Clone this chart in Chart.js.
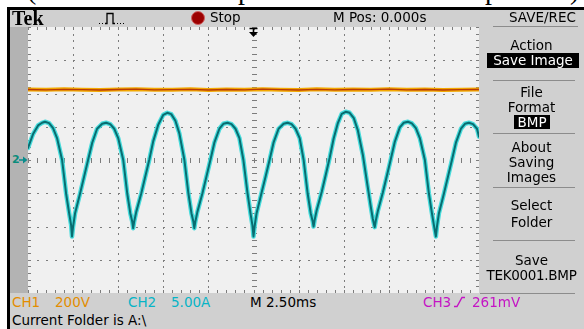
<!DOCTYPE html>
<html>
<head>
<meta charset="utf-8">
<script src="https://cdn.jsdelivr.net/npm/chart.js@4.4.1/dist/chart.umd.min.js"></script>
<style>
  html, body { margin: 0; padding: 0; background: #fff; }
  body { width: 584px; height: 329px; position: relative; overflow: hidden; font-family: "DejaVu Sans", sans-serif; font-size: 13.5px; color: #000; }
  .abs { position: absolute; white-space: nowrap; line-height: 16px; }
  .cap { position: absolute; top: -24px; font: 28px/28px "Liberation Serif", serif; }
  #frame { position: absolute; left: 7px; top: 7px; width: 577px; height: 322px; background: #000; }
  #screen { position: absolute; left: 10px; top: 10px; width: 574px; height: 319px; background: #d0d0d0; }
  #strip { position: absolute; left: 10px; top: 27px; width: 18px; height: 266px; background: #b3b3b3; }
  #plot { position: absolute; left: 28px; top: 27px; width: 451px; height: 266px; background: #f0f0f0; }
  .menu { position: absolute; left: 479px; width: 105px; text-align: center; line-height: 16px; }
  .sep { position: absolute; height: 1px; background: #8c8c8c; }
  .inv { background: #000; color: #fff; }
</style>
</head>
<body>
<span class="cap" style="left:27px">(</span>
<span class="cap" style="left:238px">p</span>
<span class="cap" style="left:485px">p</span>
<span class="cap" style="left:570px">)</span>

<div id="frame"></div>
<div id="screen"></div>
<div id="strip"></div>
<div id="plot"><canvas id="scope" width="451" height="266"></canvas></div>

<!-- header row -->
<span class="abs" style="left:12px;top:9px;font:bold 20px/19px 'Liberation Serif',serif">Tek</span>
<svg class="abs" style="left:98px;top:11px" width="30" height="14">
  <path d="M1 12.5 h1 M4 12.5 h1" stroke="#000" stroke-width="1"/>
  <path d="M7 12.5 h2 v-10 h6 v10 h2" stroke="#000" stroke-width="1.3" fill="none"/>
  <path d="M19 12.5 h1 M22 12.5 h1 M25 12.5 h1" stroke="#000" stroke-width="1"/>
</svg>
<div class="abs" style="left:191px;top:11px;width:12px;height:12px;border-radius:50%;background:#9c0000;border:1px solid #d06060"></div>
<span class="abs" style="left:210px;top:9px">Stop</span>
<span class="abs" style="left:333px;top:9px">M Pos: 0.000s</span>
<span class="abs" style="left:509px;top:9px">SAVE/REC</span>
<div class="sep" style="left:493px;top:26px;width:85px"></div>

<!-- trigger position marker and channel marker -->
<svg class="abs" style="left:248px;top:27px" width="11" height="11">
  <path d="M1.5 1.5 h8 M5.5 1.5 v5" stroke="#000" stroke-width="1.6"/>
  <path d="M1 5 L10 5 L5.5 10 Z" fill="#000"/>
</svg>
<span class="abs" style="left:12px;top:152px;font:bold 11px/16px 'DejaVu Sans',sans-serif;color:#0a8c7c">2</span>
<svg class="abs" style="left:19px;top:156px" width="9" height="8">
  <path d="M0 4 h6" stroke="#0a8c8c" stroke-width="1.5"/>
  <path d="M4 0.5 L8.5 4 L4 7.5 Z" fill="#0a8c8c"/>
</svg>

<!-- side menu -->
<div class="menu" style="top:37px">Action</div>
<div class="abs inv" style="left:487px;top:53px;width:92px;height:15px;line-height:15px;text-align:center">Save Image</div>
<div class="sep" style="left:493px;top:80px;width:82px"></div>
<div class="menu" style="top:84px">File</div>
<div class="menu" style="top:99px">Format</div>
<div class="abs inv" style="left:514px;top:115px;width:36px;height:14px;line-height:14px;text-align:center">BMP</div>
<div class="sep" style="left:493px;top:133px;width:82px"></div>
<div class="menu" style="top:139px">About</div>
<div class="menu" style="top:154px">Saving</div>
<div class="menu" style="top:169px">Images</div>
<div class="sep" style="left:493px;top:187px;width:82px"></div>
<div class="menu" style="top:197px">Select</div>
<div class="menu" style="top:214px">Folder</div>
<div class="sep" style="left:493px;top:240px;width:82px"></div>
<div class="menu" style="top:252px">Save</div>
<div class="menu" style="top:267px;letter-spacing:-0.3px">TEK0001.BMP</div>
<div class="sep" style="left:480px;top:293px;width:95px"></div>

<!-- bottom readouts -->
<span class="abs" style="left:12px;top:294px;color:#e38d00">CH1</span>
<span class="abs" style="left:55px;top:294px;color:#e38d00">200V</span>
<span class="abs" style="left:128px;top:294px;color:#06b4c6">CH2</span>
<span class="abs" style="left:171px;top:294px;color:#06b4c6">5.00A</span>
<span class="abs" style="left:250px;top:294px">M 2.50ms</span>
<span class="abs" style="left:423px;top:294px;color:#c414c4">CH3</span>
<svg class="abs" style="left:453px;top:296px" width="13" height="12">
  <path d="M1 10.5 h3 L9 1.5 h3" stroke="#c414c4" stroke-width="1.4" fill="none"/>
</svg>
<span class="abs" style="left:472px;top:294px;color:#c414c4">261mV</span>
<span class="abs" style="left:12px;top:312px">Current Folder is A:\</span>

<script>
// time base: 2.5 ms/div, 10 divisions, trigger at centre
const timeDivs = [-12.5, -10, -7.5, -5, -2.5, 0, 2.5, 5, 7.5, 10, 12.5];
// CH2 5 A/div, CH1 200 V/div, 8 divisions
const ampDivs = [-20, -15, -10, -5, 0, 5, 10, 15, 20];
const voltDivs = [-800, -600, -400, -200, 0, 200, 400, 600, 800];

// CH1 (orange) voltage trace, ms / V
const ch1Time = [-12.5, -11.5, -10.5, -9.5, -8.5, -7.5, -6.5, -5.5, -4.5, -3.5, -2.5, -1.5, -0.5,
  0.5, 1.5, 2.5, 3.5, 4.5, 5.5, 6.5, 7.5, 8.5, 9.5, 10.5, 11.5, 12.5];
const ch1Volts = [424, 422, 425, 423, 421, 424, 426, 422, 423, 425, 421, 424, 422,
  426, 423, 421, 425, 422, 424, 423, 426, 422, 424, 421, 423, 424];

// CH2 (teal) current trace, ms / A
const ch2Time = [
  -12.5, -12.22, -11.94, -11.72, -11.56, -11.33, -11.11, -10.89, -10.61, -10.39, -10.22, -10.11, -10.06,
  -10.0, -9.89, -9.61, -9.39, -9.17, -8.94, -8.67, -8.39, -8.17,
  -7.94, -7.72, -7.5, -7.22, -7.0, -6.83, -6.72, -6.67,
  -6.61, -6.5, -6.22, -6.0, -5.78, -5.56, -5.28, -5.0, -4.78,
  -4.56, -4.33, -4.11, -3.83, -3.61, -3.44, -3.33, -3.28,
  -3.22, -3.11, -2.83, -2.61, -2.39, -2.17, -1.89, -1.67, -1.44,
  -1.22, -1.0, -0.78, -0.56, -0.33, -0.17, -0.06, 0,
  0.06, 0.17, 0.44, 0.67, 0.89, 1.11, 1.39, 1.67, 1.89,
  2.11, 2.33, 2.56, 2.78, 3.0, 3.17, 3.28, 3.33,
  3.39, 3.5, 3.78, 4.0, 4.22, 4.44, 4.67, 4.89, 5.11,
  5.33, 5.56, 5.78, 6.06, 6.33, 6.5, 6.61, 6.72,
  6.78, 6.89, 7.17, 7.39, 7.61, 7.83, 8.11, 8.33, 8.56,
  8.78, 9.0, 9.22, 9.5, 9.72, 9.89, 10.0, 10.11,
  10.17, 10.28, 10.56, 10.78, 11.0, 11.22, 11.5, 11.72, 11.94,
  12.17, 12.39, 12.5
];
const ch2Amps = [
  1.8, 3.9, 5.2, 5.6, 5.75, 5.55, 4.8, 3.3, 0, -5.0, -8.0, -9.8, -11.5,
  -10.0, -8.0, -5.0, -2.5, 0, 2.6, 4.7, 5.45, 5.6,
  5.4, 4.7, 3.3, 0, -5.0, -8.0, -9.3, -10.25,
  -9.2, -7.8, -5.0, -2.5, 0, 2.8, 5.3, 6.8, 7.1,
  6.9, 5.9, 4.0, 0, -5.0, -8.0, -9.3, -10.25,
  -9.2, -7.8, -5.0, -2.5, 0, 2.6, 4.7, 5.45, 5.6,
  5.4, 4.7, 3.3, 0, -5.0, -8.0, -9.8, -11.5,
  -10.0, -8.0, -5.0, -2.5, 0, 2.6, 4.7, 5.45, 5.6,
  5.4, 4.7, 3.3, 0, -5.0, -8.0, -9.2, -10.0,
  -9.0, -7.6, -4.8, -2.3, 0.3, 3.2, 5.5, 6.95, 7.25,
  7.1, 6.3, 4.5, 0.8, -4.0, -7.0, -8.8, -10.1,
  -9.1, -7.7, -4.9, -2.4, 0.1, 2.7, 4.9, 5.6, 5.75,
  5.5, 4.8, 3.3, 0, -5.0, -8.0, -9.8, -11.5,
  -10.0, -8.0, -5.0, -2.5, 0, 2.6, 4.7, 5.45, 5.6,
  5.4, 4.7, 3.5
];

const ch1Points = ch1Time.map((t, i) => ({ x: t, y: ch1Volts[i] }));
const ch2Points = ch2Time.map((t, i) => ({ x: t, y: ch2Amps[i] }));

// dotted graticule like the scope screen, 5 minor marks per division
const graticule = {
  id: 'graticule',
  beforeDatasetsDraw(chart) {
    const { ctx, chartArea: a, scales } = chart;
    const x = scales.x, y = scales.y;
    const minorX = (timeDivs[1] - timeDivs[0]) / 5;
    const minorY = (ampDivs[1] - ampDivs[0]) / 5;
    const xs = [], ys = [];
    for (let t = timeDivs[0]; t <= timeDivs[timeDivs.length - 1] + 1e-6; t += minorX) xs.push(Math.round(x.getPixelForValue(t)));
    for (let v = ampDivs[0]; v <= ampDivs[ampDivs.length - 1] + 1e-6; v += minorY) ys.push(Math.round(y.getPixelForValue(v)));
    ctx.save();
    ctx.fillStyle = '#7c7c7c';
    timeDivs.forEach((t, i) => {
      const px = Math.round(x.getPixelForValue(t));
      if (i === 0 || i === timeDivs.length - 1) return;
      ys.forEach(py => {
        if (t === 0) ctx.fillRect(px - 2, py, 5, 1);
        else ctx.fillRect(px, py, 1, 2);
      });
    });
    ampDivs.forEach((v, i) => {
      const py = Math.round(y.getPixelForValue(v));
      if (i === 0 || i === ampDivs.length - 1) return;
      xs.forEach(px => {
        if (v === 0) ctx.fillRect(px, py - 2, 1, 5);
        else ctx.fillRect(px, py, 2, 1);
      });
    });
    // edge ticks
    xs.forEach(px => {
      ctx.fillRect(px, a.top, 1, 3);
      ctx.fillRect(px, a.bottom - 3, 1, 3);
    });
    ys.forEach(py => {
      ctx.fillRect(a.left, py, 3, 1);
      ctx.fillRect(a.right - 3, py, 3, 1);
    });
    ctx.restore();
  }
};

new Chart(document.getElementById('scope'), {
  type: 'line',
  data: {
    datasets: [
      { label: 'CH1 glow', data: ch1Points, yAxisID: 'yV', borderColor: '#f2a800', borderWidth: 4, order: 2 },
      { label: 'CH1', data: ch1Points, yAxisID: 'yV', borderColor: '#b83a08', borderWidth: 1.3, order: 1 },
      { label: 'CH2 glow', data: ch2Points, yAxisID: 'y', borderColor: '#48dcdc', borderWidth: 4.5, order: 4 },
      { label: 'CH2', data: ch2Points, yAxisID: 'y', borderColor: '#086c70', borderWidth: 2, order: 3 }
    ]
  },
  options: {
    responsive: false,
    animation: false,
    layout: { padding: 0 },
    elements: {
      point: { radius: 0 },
      line: { tension: 0, borderJoinStyle: 'round', borderCapStyle: 'round' }
    },
    plugins: { legend: { display: false }, tooltip: { enabled: false } },
    scales: {
      x: { type: 'linear', min: timeDivs[0], max: timeDivs[timeDivs.length - 1], display: false },
      y: { min: ampDivs[0], max: ampDivs[ampDivs.length - 1], display: false },
      yV: { min: voltDivs[0], max: voltDivs[voltDivs.length - 1], display: false }
    }
  },
  plugins: [graticule]
});
</script>
</body>
</html>
